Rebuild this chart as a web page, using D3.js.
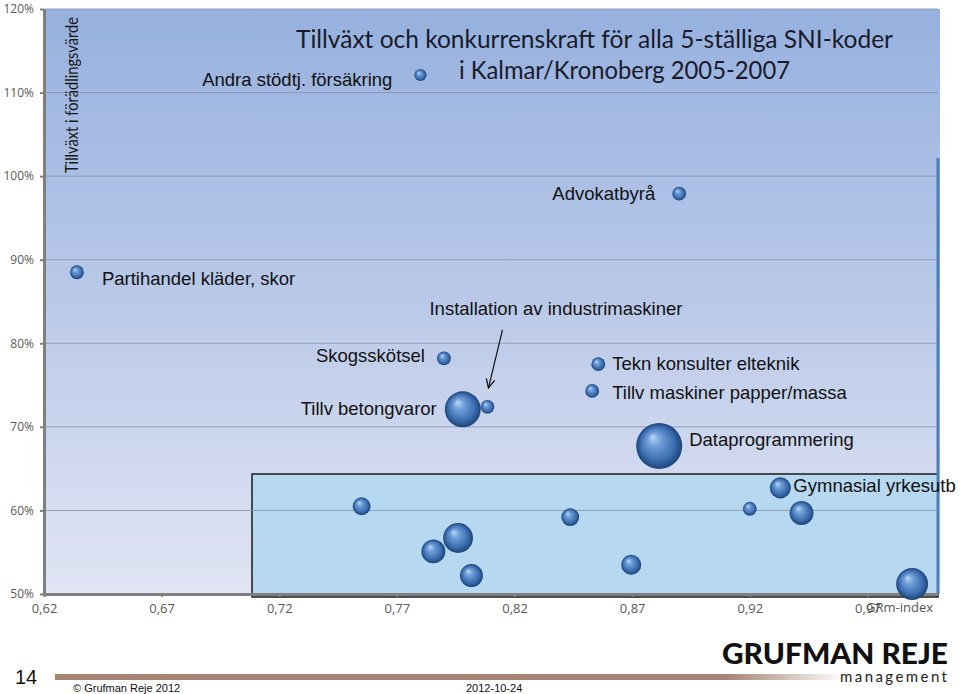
<!DOCTYPE html>
<html>
<head>
<meta charset="utf-8">
<title>Tillväxt och konkurrenskraft</title>
<script src="https://d3js.org/d3.v7.min.js"></script>
<style>
  body { margin: 0; background: #fff; }
  .lbl { font-family: "Liberation Sans", Arial, sans-serif; font-size: 18.5px; fill: #111; }
  .axis text { font-family: "Open Sans", sans-serif; font-size: 12px; fill: #5a5a5a; }
</style>
</head>
<body>
<svg width="960" height="694"></svg>
<script>
// bransch (5-ställig SNI), GRm-index, tillväxt i förädlingsvärde, storlek
var names = ["Andra stödtj. försäkring", "Advokatbyrå", "Partihandel kläder, skor",
  "Installation av industrimaskiner", "Skogsskötsel", "Tillv betongvaror",
  "Tekn konsulter elteknik", "Tillv maskiner papper/massa", "Dataprogrammering",
  "Gymnasial yrkesutb", "", "", "", "", "", "", "", "", ""];
var grm = [0.780, 0.890, 0.634, 0.8085, 0.790, 0.798, 0.8556, 0.853, 0.8815, 0.933,
  0.755, 0.7855, 0.796, 0.8017, 0.8437, 0.8696, 0.920, 0.942, 0.989];
var growth = [1.121, 0.979, 0.885, 0.724, 0.782, 0.721, 0.775, 0.743, 0.677, 0.627,
  0.605, 0.551, 0.567, 0.522, 0.592, 0.535, 0.602, 0.597, 0.512];
var size = [7, 9, 9, 9, 9, 61, 9, 9, 100, 21, 15, 27, 42, 25, 15, 19, 9, 27, 48];

var xTicks = [0.62, 0.67, 0.72, 0.77, 0.82, 0.87, 0.92, 0.97];
var yTicks = [0.5, 0.6, 0.7, 0.8, 0.9, 1.0, 1.1, 1.2];

// where each label sits relative to its bubble
var labelPos = {
  "Andra stödtj. försäkring": ["end", -28, 5],
  "Advokatbyrå": ["end", -24, 0],
  "Partihandel kläder, skor": ["start", 25, 6],
  "Installation av industrimaskiner": ["start", -58, -98],
  "Skogsskötsel": ["end", -19, -3],
  "Tillv betongvaror": ["end", -26, -1],
  "Tekn konsulter elteknik": ["start", 14, -1],
  "Tillv maskiner papper/massa": ["start", 20, 2],
  "Dataprogrammering": ["start", 30, -7],
  "Gymnasial yrkesutb": ["start", 13, -2]
};

var svg = d3.select("svg");
var pl = 44, pr = 938, pt = 9, pb = 594;

var x = d3.scaleLinear().domain([0.62, 1.0]).range([pl, pr]);
var y = d3.scaleLinear().domain([0.5, 1.2]).range([pb, pt]);
var r = d3.scaleSqrt().domain([0, 100]).range([0, 23]);

var sv = d3.formatLocale({decimal: ",", thousands: " ", grouping: [3], currency: ["", " kr"]});

var defs = svg.append("defs");
var bg = defs.append("linearGradient").attr("id", "bg").attr("x1", 0).attr("y1", 0).attr("x2", 0).attr("y2", 1);
bg.append("stop").attr("offset", "0%").attr("stop-color", "#96b1df");
bg.append("stop").attr("offset", "50%").attr("stop-color", "#bac9e9");
bg.append("stop").attr("offset", "100%").attr("stop-color", "#e1e5f4");

var ball = defs.append("radialGradient").attr("id", "ball")
  .attr("cx", "50%").attr("cy", "50%").attr("r", "50%").attr("fx", "35%").attr("fy", "30%");
ball.append("stop").attr("offset", "0%").attr("stop-color", "#bcd8f6");
ball.append("stop").attr("offset", "30%").attr("stop-color", "#6f9fd8");
ball.append("stop").attr("offset", "75%").attr("stop-color", "#3a6cae");
ball.append("stop").attr("offset", "100%").attr("stop-color", "#1c4378");

var bar = defs.append("linearGradient").attr("id", "bar");
bar.append("stop").attr("offset", "0%").attr("stop-color", "#a58473");
bar.append("stop").attr("offset", "85%").attr("stop-color", "#a58473");
bar.append("stop").attr("offset", "100%").attr("stop-color", "#ffffff");

// plot background
svg.append("rect").attr("x", pl).attr("y", pt).attr("width", pr - pl + 2).attr("height", pb - pt)
  .attr("fill", "url(#bg)");

// highlighted area
svg.append("rect").attr("x", 252).attr("y", 474).attr("width", pr - 252).attr("height", 123)
  .attr("fill", "#b6d8f1").attr("stroke", "#1a1a1a").attr("stroke-width", 1.5);

// gridlines
svg.append("g").selectAll("line").data(yTicks.slice(1)).enter().append("line")
  .attr("x1", pl).attr("x2", pr)
  .attr("y1", function (d) { return y(d); }).attr("y2", function (d) { return y(d); })
  .attr("stroke", "#8592aa").attr("stroke-opacity", 0.8);

// right edge line
svg.append("line").attr("x1", pr).attr("x2", pr).attr("y1", 158).attr("y2", pb)
  .attr("stroke", "#4d7dbd").attr("stroke-width", 3);

// axes
var yAxis = svg.append("g").attr("class", "axis").attr("transform", "translate(" + pl + ",0)")
  .call(d3.axisLeft(y).tickValues(yTicks).tickFormat(d3.format(".0%")).tickSize(4).tickPadding(6).tickSizeOuter(0));
var xAxis = svg.append("g").attr("class", "axis").attr("transform", "translate(0," + pb + ")")
  .call(d3.axisBottom(x).tickValues(xTicks).tickFormat(sv.format(".2f")).tickSize(3).tickPadding(7).tickSizeOuter(0));
xAxis.selectAll("text").style("font-size", "13px");
[yAxis, xAxis].forEach(function (a) {
  a.select(".domain").attr("stroke", "#7f7f7f").attr("stroke-width", 3);
  a.selectAll(".tick line").attr("stroke", "#7f7f7f").attr("stroke-width", 2);
});

svg.append("text").attr("x", 933).attr("y", 612).attr("text-anchor", "end")
  .style("font-family", "Open Sans, sans-serif").style("font-size", "13px").attr("fill", "#555")
  .text("GRm-index");

// titles
svg.append("text").attr("transform", "translate(78,173) rotate(-90)")
  .attr("textLength", 156).attr("lengthAdjust", "spacingAndGlyphs")
  .style("font-family", "Lato, sans-serif").style("font-size", "16.5px").attr("fill", "#1a1a1a")
  .text("Tillväxt i förädlingsvärde");
svg.append("text").attr("x", 296).attr("y", 48).attr("textLength", 597).attr("lengthAdjust", "spacingAndGlyphs")
  .style("font-family", "Lato, sans-serif").style("font-size", "25px").attr("fill", "#1a1a2a")
  .text("Tillväxt och konkurrenskraft för alla 5-ställiga SNI-koder");
svg.append("text").attr("x", 459).attr("y", 79).attr("textLength", 331).attr("lengthAdjust", "spacingAndGlyphs")
  .style("font-family", "Lato, sans-serif").style("font-size", "25px").attr("fill", "#1a1a2a")
  .text("i Kalmar/Kronoberg 2005-2007");

var data = names.map(function (n, i) { return {name: n, x: grm[i], y: growth[i], s: size[i]}; });

// arrow to Installation av industrimaskiner
defs.append("marker").attr("id", "arr").attr("viewBox", "0 0 10 10").attr("refX", 9).attr("refY", 5)
  .attr("markerWidth", 9).attr("markerHeight", 9).attr("orient", "auto")
  .append("path").attr("d", "M1,1L9,5L1,9").attr("fill", "none").attr("stroke", "#111").attr("stroke-width", 1.2);
var inst = data[3];
svg.append("line").attr("x1", x(inst.x) + 15).attr("y1", y(inst.y) - 77)
  .attr("x2", x(inst.x) + 1).attr("y2", y(inst.y) - 19)
  .attr("stroke", "#111").attr("stroke-width", 1.2).attr("marker-end", "url(#arr)");

// bubbles
svg.append("g").selectAll("circle").data(data).enter().append("circle")
  .attr("cx", function (d) { return x(d.x); })
  .attr("cy", function (d) { return y(d.y); })
  .attr("r", function (d) { return r(d.s); })
  .attr("fill", "url(#ball)");

// labels
svg.append("g").selectAll("text").data(data.filter(function (d) { return d.name; })).enter().append("text")
  .attr("class", "lbl")
  .attr("x", function (d) { return x(d.x) + labelPos[d.name][1]; })
  .attr("y", function (d) { return y(d.y) + labelPos[d.name][2]; })
  .attr("dy", "0.35em")
  .attr("text-anchor", function (d) { return labelPos[d.name][0]; })
  .text(function (d) { return d.name; });

// footer
svg.append("rect").attr("x", 55).attr("y", 674).attr("width", 790).attr("height", 6).attr("fill", "url(#bar)");
svg.append("text").attr("x", 15).attr("y", 684).style("font-family", "Liberation Sans, Arial, sans-serif")
  .style("font-size", "20px").attr("fill", "#111").text("14");
svg.append("text").attr("x", 73).attr("y", 692).style("font-family", "Liberation Sans, Arial, sans-serif")
  .style("font-size", "11px").attr("fill", "#111").text("© Grufman Reje 2012");
svg.append("text").attr("x", 466).attr("y", 692).style("font-family", "Liberation Sans, Arial, sans-serif")
  .style("font-size", "11px").attr("fill", "#111").text("2012-10-24");
svg.append("text").attr("x", 722).attr("y", 664).attr("textLength", 226).attr("lengthAdjust", "spacingAndGlyphs")
  .style("font-family", "Lato, sans-serif").style("font-weight", 900).style("font-size", "28px")
  .attr("fill", "#111").text("GRUFMAN REJE");
svg.append("text").attr("x", 840).attr("y", 682).attr("textLength", 107).attr("lengthAdjust", "spacing")
  .style("font-family", "Lato, sans-serif").style("font-size", "15px").attr("fill", "#222")
  .text("management");
</script>
</body>
</html>
